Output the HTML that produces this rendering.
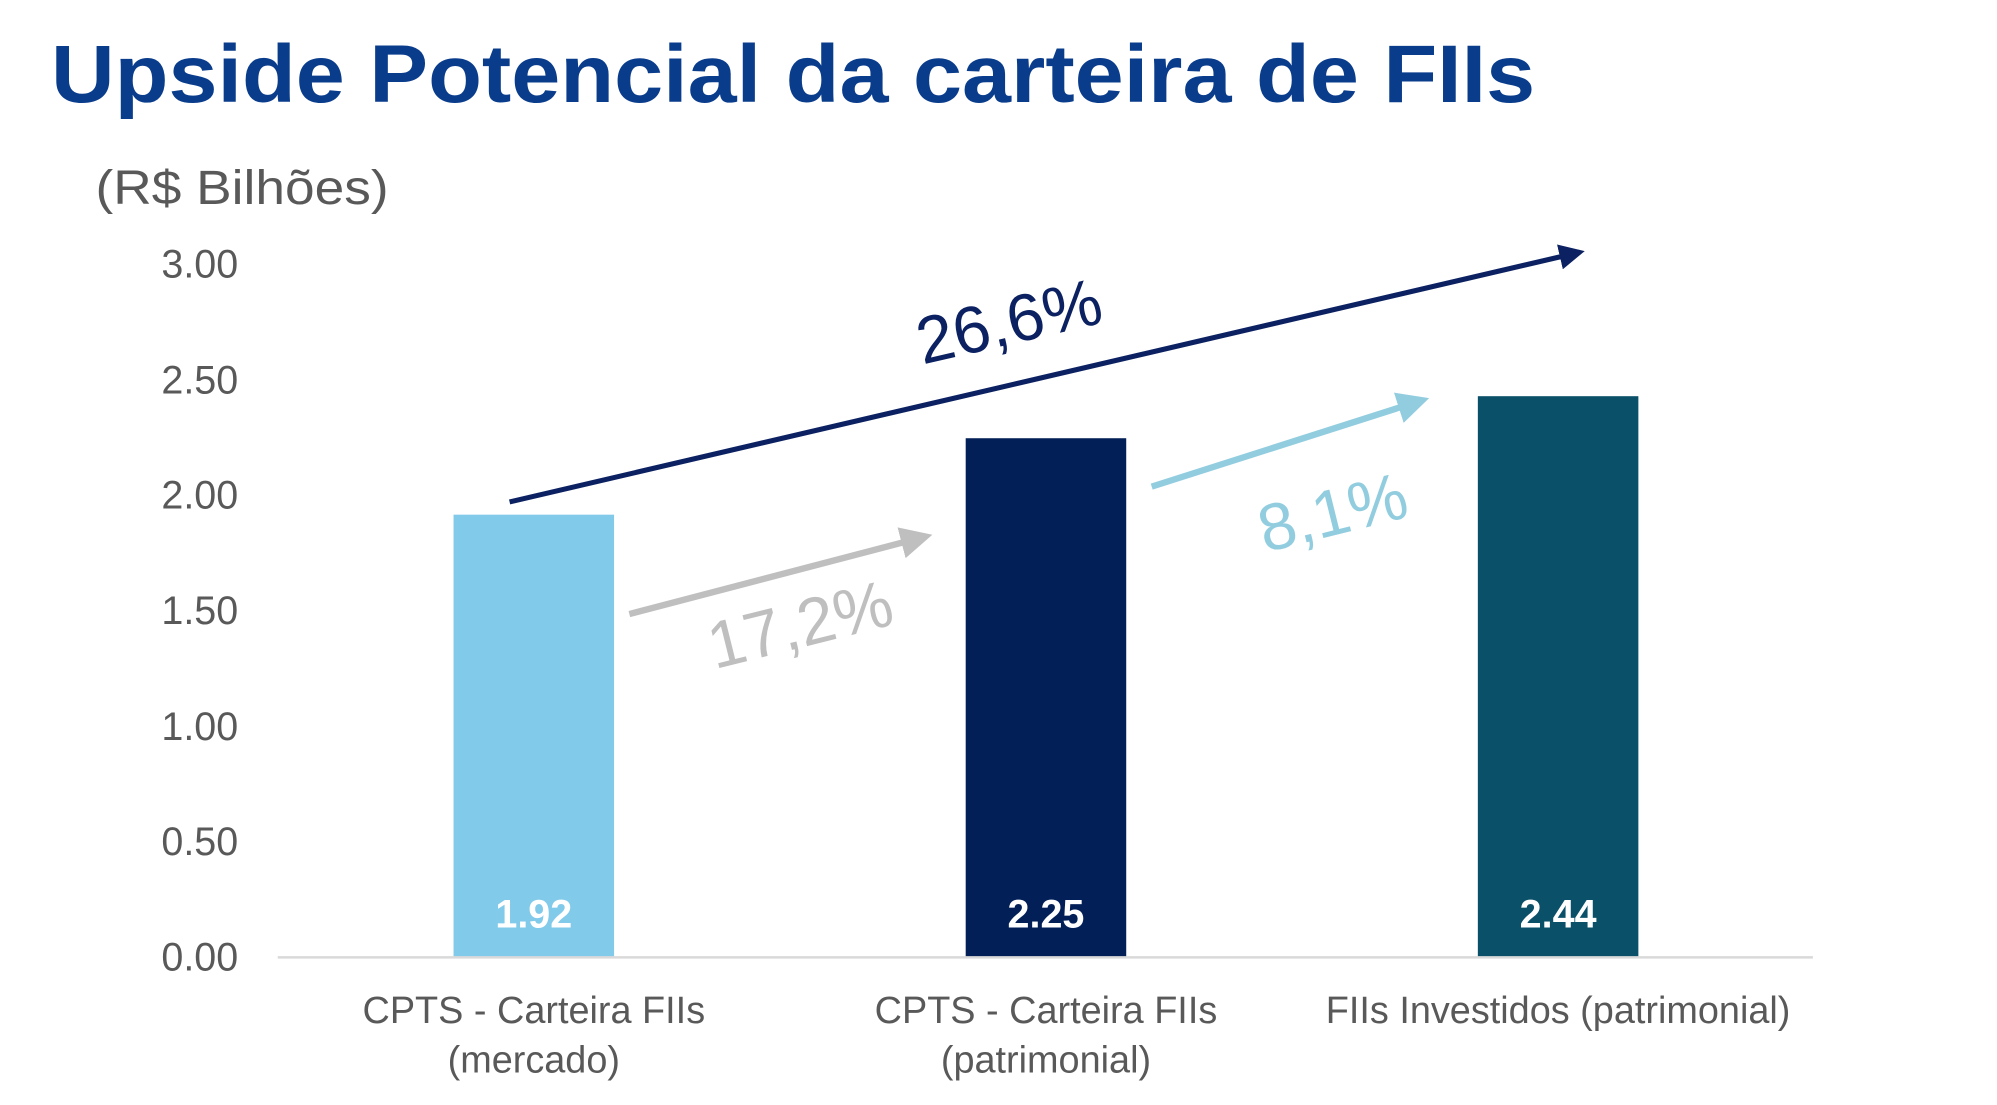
<!DOCTYPE html>
<html><head><meta charset="utf-8"><style>
html,body{margin:0;padding:0;background:#fff;}
svg{display:block;}
</style></head><body>
<svg width="1997" height="1105" viewBox="0 0 1567.5 867.4" preserveAspectRatio="none" xmlns="http://www.w3.org/2000/svg">
<defs>
<marker id="md" viewBox="0 0 10 10" refX="8" refY="5" markerWidth="5" markerHeight="5" orient="auto"><path d="M0,0 L10,5 L0,10 z" fill="#0B2161"/></marker>
<marker id="mg" viewBox="0 0 10 10" refX="8" refY="5" markerWidth="5" markerHeight="5" orient="auto"><path d="M0,0 L10,5 L0,10 z" fill="#BFBFBF"/></marker>
<marker id="ml" viewBox="0 0 10 10" refX="8" refY="5" markerWidth="5" markerHeight="5" orient="auto"><path d="M0,0 L10,5 L0,10 z" fill="#92CDDF"/></marker>
</defs>
<text x="40" y="80" font-family="Liberation Sans, sans-serif" font-weight="bold" font-size="64" fill="#0A3C8C" textLength="1165" lengthAdjust="spacingAndGlyphs">Upside Potencial da carteira de FIIs</text>
<text x="75" y="160" font-family="Liberation Sans, sans-serif" font-size="38" fill="#595959" textLength="230" lengthAdjust="spacingAndGlyphs">(R$ Bilhões)</text>
<g font-family="Liberation Sans, sans-serif" font-size="31" fill="#595959" text-anchor="end">
<text x="187" y="218">3.00</text>
<text x="187" y="309">2.50</text>
<text x="187" y="399">2.00</text>
<text x="187" y="490">1.50</text>
<text x="187" y="581">1.00</text>
<text x="187" y="671">0.50</text>
<text x="187" y="762">0.00</text>
</g>
<rect x="356" y="404" width="126" height="347" fill="#82CAEA"/>
<rect x="758" y="344" width="126" height="407" fill="#021F57"/>
<rect x="1160" y="311" width="126" height="440" fill="#0A5068"/>
<line x1="218" y1="751.5" x2="1423" y2="751.5" stroke="#D9D9D9" stroke-width="2"/>
<g font-family="Liberation Sans, sans-serif" font-size="31" font-weight="bold" fill="#fff" text-anchor="middle">
<text x="419" y="728">1.92</text>
<text x="821" y="728">2.25</text>
<text x="1223" y="728">2.44</text>
</g>
<g font-family="Liberation Sans, sans-serif" font-size="29.7" fill="#595959" text-anchor="middle">
<text x="419" y="803">CPTS - Carteira FIIs</text>
<text x="419" y="842">(mercado)</text>
<text x="821" y="803">CPTS - Carteira FIIs</text>
<text x="821" y="842">(patrimonial)</text>
<text x="1223" y="803">FIIs Investidos (patrimonial)</text>
</g>
<line x1="400" y1="394" x2="1240" y2="198" stroke="#0B2161" stroke-width="4" marker-end="url(#md)"/>
<line x1="494" y1="482" x2="727" y2="421" stroke="#BFBFBF" stroke-width="5" marker-end="url(#mg)"/>
<line x1="904" y1="382" x2="1117" y2="314" stroke="#92CDDF" stroke-width="5" marker-end="url(#ml)"/>
<g font-family="Liberation Sans, sans-serif" font-size="52" text-anchor="middle">
<text x="792" y="270" fill="#0B2161" transform="rotate(-13 792 252)">26,6%</text>
<text x="628" y="508" fill="#BFBFBF" transform="rotate(-14 628 490)">17,2%</text>
<text x="1046" y="420" fill="#92CDDF" transform="rotate(-14 1046 402)">8,1%</text>
</g>
</svg>
</body></html>
